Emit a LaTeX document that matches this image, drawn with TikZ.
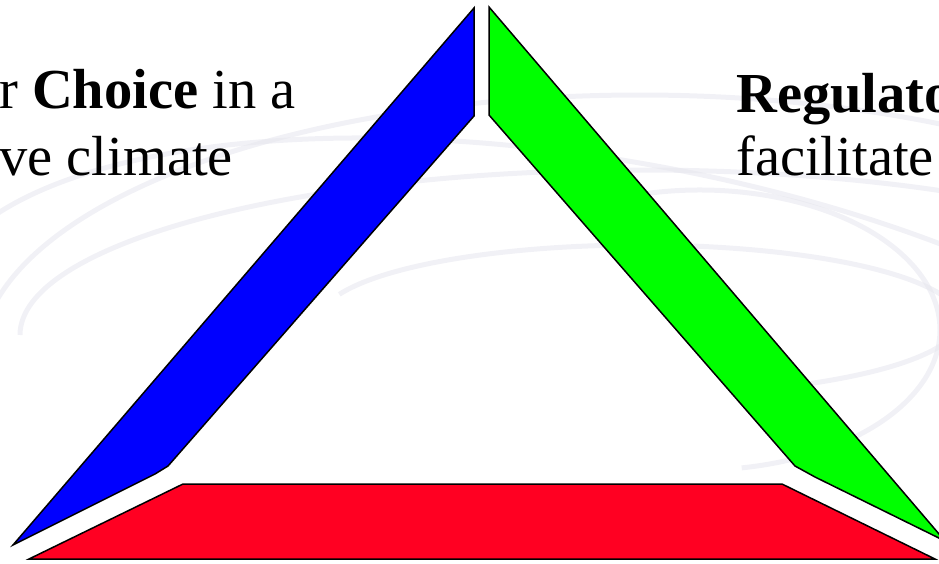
\documentclass[tikz,border=0pt]{standalone}
\usepackage{fontspec}
\setmainfont{Liberation Serif}
\definecolor{legblue}{HTML}{0000FF}
\definecolor{leggreen}{HTML}{00FF00}
\definecolor{legred}{HTML}{FF0022}
\definecolor{swirl}{HTML}{E6E6EE}
\begin{document}
\begin{tikzpicture}[x=1pt,y=-1pt,
  leg/.style={draw=black,line width=1.5pt,line join=miter},
  orbit/.style={draw=swirl,line width=5pt,opacity=0.55},
  caption/.style={anchor=base west,inner sep=0pt,font=\fontsize{56.5}{66}\selectfont}]
\useasboundingbox (0,0) rectangle (939,563);
\clip (0,0) rectangle (939,563);
% faint background swirls
\draw[orbit] (640,360) ++(180:660 and 265) arc[start angle=180,end angle=380,x radius=660,y radius=265];
\draw[orbit] (640,335) ++(180:620 and 165) arc[start angle=180,end angle=400,x radius=620,y radius=165];
\draw[orbit] (640,320) ++(200:320 and 75) arc[start angle=200,end angle=420,x radius=320,y radius=75];
\draw[orbit] (700,330) ++(240:240 and 140) arc[start angle=240,end angle=440,x radius=240,y radius=140];
\draw[orbit, rotate around={-10:(600,420)}] (600,420) ++(180:680 and 260) arc[start angle=180,end angle=300,x radius=680,y radius=260];
% triangle legs
\coordinate (b1) at (474,8);
\coordinate (b2) at (474,116);
\coordinate (b3) at (168,466);
\coordinate (b4) at (155,474);
\coordinate (b5) at (13,545);
\draw[leg,fill=legblue] (b1) -- (b2) -- (b3) -- (b4) -- (b5) -- cycle;
\coordinate (g1) at (489,7);
\coordinate (g2) at (489,115);
\coordinate (g3) at (795,466);
\coordinate (g4) at (815,477);
\coordinate (g5) at (945,541);
\draw[leg,fill=leggreen] (g1) -- (g2) -- (g3) -- (g4) -- (g5) -- cycle;
\coordinate (r1) at (183,484);
\coordinate (r2) at (782,484);
\coordinate (r3) at (935,559);
\coordinate (r4) at (29,559);
\draw[leg,fill=legred] (r1) -- (r2) -- (r3) -- (r4) -- cycle;
% captions
\node[caption] (lt1) at (-1,108) {r \textbf{Choice} in a};
\node[caption] (lt2) at (-1,175) {ve climate};
\node[caption] (rt1) at (736,112) {\textbf{Regulato}};
\node[caption] (rt2) at (736,175) {facilitate};
\end{tikzpicture}
\end{document}
